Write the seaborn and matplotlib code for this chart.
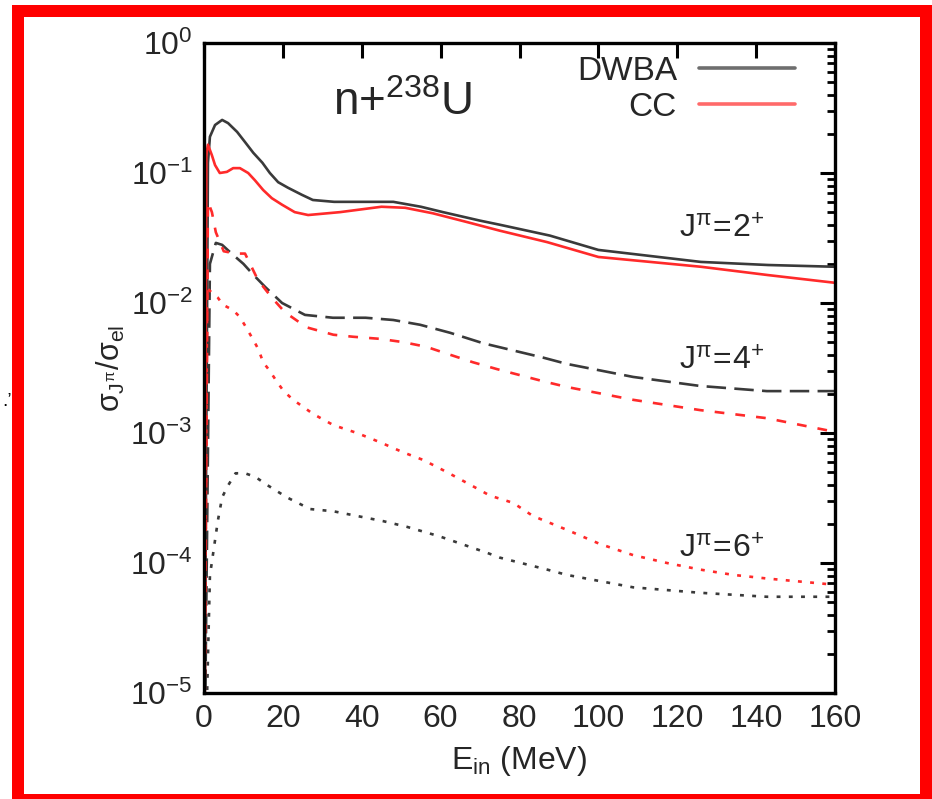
import numpy as np
import pandas as pd
import matplotlib
matplotlib.use("Agg")
import matplotlib.pyplot as plt
from matplotlib.lines import Line2D
from matplotlib.patches import Rectangle
import seaborn as sns

# ---------------- data ----------------
E_dwba2 = [0, 1, 1.5, 2.8, 4.6, 6.1, 8.4, 10.4, 12.5, 14.8, 16.7, 18.8, 21.3, 24.8, 27.6, 33, 41, 48, 55,
           60.6, 70, 75, 87.7, 100, 126, 143, 160]
dwba2 = [1e-6, 0.12, 0.19, 0.234, 0.256, 0.242, 0.207, 0.173, 0.143, 0.12, 0.10, 0.085, 0.077, 0.068, 0.062,
         0.060, 0.060, 0.060, 0.055, 0.050, 0.043, 0.040, 0.033, 0.0256, 0.0207, 0.0196, 0.019]

E_cc2 = [0, 0.6, 1, 2, 2.8, 4, 5.8, 7.4, 9.1, 11.2, 12.9, 15, 17.2, 19.8, 23, 26.4, 34.5, 45, 51, 58, 66.6,
         75, 87, 100, 126, 143, 160]
cc2 = [1e-6, 0.14, 0.165, 0.137, 0.115, 0.10, 0.102, 0.109, 0.109, 0.10, 0.088, 0.074, 0.064, 0.057, 0.050,
       0.0475, 0.050, 0.055, 0.054, 0.049, 0.042, 0.036, 0.0294, 0.0226, 0.019, 0.0164, 0.0143]

E_dwba4 = [0, 1.5, 3, 4.6, 7, 10, 12.5, 15.5, 19.8, 25.6, 32.7, 41, 48, 54.8, 62.4, 70.8, 86, 92, 108.8,
           125.8, 142.7, 160]
dwba4 = [1e-6, 0.02, 0.029, 0.028, 0.024, 0.020, 0.0165, 0.0133, 0.010, 0.0081, 0.0077, 0.0077, 0.0074,
         0.0068, 0.0059, 0.0049, 0.0038, 0.0034, 0.0027, 0.0023, 0.0021, 0.0021]

E_cc4 = [0, 1, 2, 3, 5, 8, 10.4, 13.7, 17.2, 20.5, 26, 32.8, 37.8, 44.6, 50.5, 56.4, 62.4, 68.2, 74.3, 86, 92,
         108.8, 125.8, 142.7, 160]
cc4 = [1e-6, 0.06, 0.05, 0.035, 0.025, 0.024, 0.024, 0.015, 0.011, 0.0085, 0.0065, 0.0057, 0.0055, 0.0053,
       0.0050, 0.0046, 0.0040, 0.0035, 0.0031, 0.0025, 0.00226, 0.0018, 0.0015, 0.0013, 0.00102]

E_dwba6 = [0, 1.5, 3.5, 4.6, 6, 8, 10.4, 13, 15.9, 21, 26.9, 32.8, 38.8, 45.4, 51.4, 59.8, 71.7, 75, 87, 92,
           108.8, 125.8, 142.7, 160]
dwba6 = [1e-6, 8e-5, 2.1e-4, 3.2e-4, 3.9e-4, 4.9e-4, 4.9e-4, 4.6e-4, 4.0e-4, 3.2e-4, 2.6e-4, 2.5e-4, 2.3e-4,
         2.1e-4, 1.9e-4, 1.6e-4, 1.2e-4, 1.1e-4, 8.9e-5, 8.1e-5, 6.5e-5, 5.9e-5, 5.5e-5, 5.5e-5]

E_cc6 = [0, 0.8, 2, 3.5, 4.8, 7.4, 9.1, 10.8, 12.5, 13.8, 15, 16.7, 18.4, 20.2, 22.6, 27.7, 32.8, 38.8, 44.6,
         50.5, 55.6, 61.6, 67.5, 72.5, 78.4, 83.4, 92, 100.4, 108.8, 117.4, 125.8, 134.2, 142.7, 160]
cc6 = [1e-6, 0.013, 0.012, 0.011, 0.0097, 0.0088, 0.0078, 0.0064, 0.0052, 0.0044, 0.0035, 0.0030, 0.0025,
       0.0021, 0.0018, 0.0014, 0.00115, 0.0010, 0.00085, 0.00071, 0.00062, 0.0005, 0.0004, 0.00033, 0.00029,
       0.00023, 0.00018, 0.00014, 0.000115, 0.0001, 0.000089, 0.000081, 0.000076, 0.000068]

legend_labels = ["DWBA", "CC"]
state_labels = [r"$\mathdefault{J^{\pi}\!=\!2^{+}}$", r"$\mathdefault{J^{\pi}\!=\!4^{+}}$",
                r"$\mathdefault{J^{\pi}\!=\!6^{+}}$"]
x_ticks = [0, 20, 40, 60, 80, 100, 120, 140, 160]

# ---------------- style ----------------
sns.set_style("white")
plt.rcParams["font.family"] = ["Liberation Sans", "DejaVu Sans"]
plt.rcParams["mathtext.fontset"] = "custom"
plt.rcParams["mathtext.rm"] = "Liberation Sans"
plt.rcParams["mathtext.it"] = "Liberation Sans"
plt.rcParams["mathtext.bf"] = "Liberation Sans:bold"
plt.rcParams["mathtext.sf"] = "Liberation Sans"
plt.rcParams["lines.scale_dashes"] = False

fig = plt.figure(figsize=(9.32, 7.99), dpi=100)
ax = fig.add_axes([204 / 932, 1 - 693 / 799, (835 - 204) / 932, (693 - 43) / 799])

black = "#3a3a3a"
red = "#ff2a2a"
lw = 1.9

series = [
    (E_dwba2, dwba2, black, "-"),
    (E_cc2, cc2, red, "-"),
    (E_dwba4, dwba4, black, (0, (14, 6))),
    (E_cc4, cc4, red, (0, (7, 8))),
    (E_dwba6, dwba6, black, (0, (2.8, 6))),
    (E_cc6, cc6, red, (0, (2.8, 6))),
]
for xs, ys, c, ls in series:
    df = pd.DataFrame({"E": xs, "r": ys})
    sns.lineplot(data=df, x="E", y="r", ax=ax, color=c, linewidth=lw, linestyle=ls,
                 estimator=None, sort=False)

ax.set_yscale("log")
ax.set_xlim(0, 160)
ax.set_ylim(1e-5, 1)
ax.set_xticks(x_ticks)
ax.set_xticklabels([str(t) for t in x_ticks])

for s in ax.spines.values():
    s.set_linewidth(2.4)
    s.set_color("black")
    s.set_visible(True)

ax.tick_params(which="major", direction="in", length=11, width=2.2, top=True, right=True,
               labelsize=23, pad=8, color="black")
ax.tick_params(which="minor", direction="in", length=5.5, width=2.0, top=True, right=True, color="black")
ax.tick_params(axis="x", which="minor", bottom=False, top=False)

ax.set_xlabel(r"$\mathdefault{E_{in}}$ (MeV)", fontsize=23, labelpad=7)
ax.set_ylabel(r"$\sigma_{J^{\pi}}/\sigma_{el}$", fontsize=22, labelpad=2)

# title-like annotation
ax.text(0.204, 0.889, r"$\mathdefault{n{+}^{238}U}$", transform=ax.transAxes, fontsize=33,
        va="baseline", ha="left")

# state annotations
for lab, yb in zip(state_labels, [0.700, 0.497, 0.209]):
    ax.text(0.752, yb, lab, transform=ax.transAxes, fontsize=23, va="baseline", ha="left")

# legend
handles = [Line2D([], [], color="#6e6e6e", lw=2.6), Line2D([], [], color="#ff6a6a", lw=2.6)]
leg = ax.legend(handles, legend_labels, loc="upper right", bbox_to_anchor=(0.937, 0.98),
                frameon=False, fontsize=24, markerfirst=False, handlelength=2.9,
                handletextpad=0.65, labelspacing=0.14, borderpad=0, borderaxespad=0)
for t in leg.get_texts():
    t.set_ha("right")

# red frame around the figure
fig.add_artist(Rectangle((18 / 932, (799 - 800) / 799), (926 - 18) / 932, (800 - 11) / 799,
                         transform=fig.transFigure, fill=False, edgecolor="#ff0000",
                         linewidth=12 * 0.72, clip_on=False))
fig.text(2 / 932, 1 - 406 / 799, ".\u2019", fontsize=14, color="black", va="baseline")

fig.savefig("out.png", dpi=100)
